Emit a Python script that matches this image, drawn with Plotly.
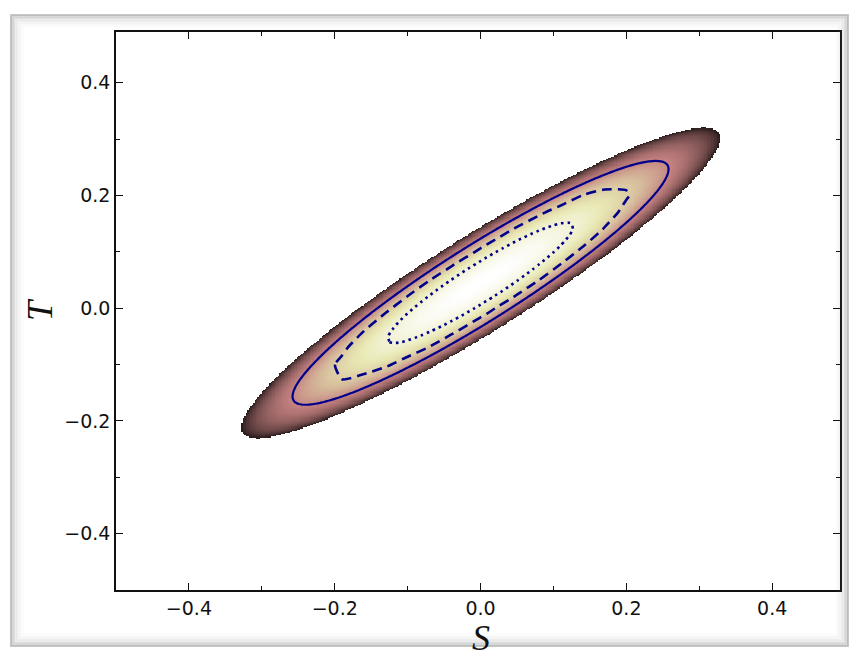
import numpy as np
import plotly.graph_objects as go

# ---- data ----
MEAN_S = 0.0
MEAN_T = 0.045
SIGMA_S = 0.1093
SIGMA_T = 0.0917
RHO = 0.932
CUTOFF_SIGMA = 3.0
CONTOUR_SIGMAS = [2.36, 1.89, 1.17]
CONTOUR_DASHES = ["solid", "10px,6px", "2.5px,4px"]
CONTOUR_WIDTHS = [2.2, 2.6, 2.6]
CONTOUR_STEPS = [0.005, 0.03, 0.01]

X_TICKS = [-0.4, -0.2, 0.0, 0.2, 0.4]
X_TICK_TEXT = ["\u22120.4", "\u22120.2", "0.0", "0.2", "0.4"]
Y_TICKS = [-0.4, -0.2, 0.0, 0.2, 0.4]
Y_TICK_TEXT = ["\u22120.4", "\u22120.2", "0.0", "0.2", "0.4"]
X_RANGE = [-0.5, 0.493]
Y_RANGE = [-0.5, 0.49]
X_TITLE = "S"
Y_TITLE = "T"


def mahal2(S, T):
    zs = (S - MEAN_S) / SIGMA_S
    zt = (T - MEAN_T) / SIGMA_T
    return (zs ** 2 - 2 * RHO * zs * zt + zt ** 2) / (1 - RHO ** 2)


def pink(t):
    t = 1 / 64 + t * 63 / 64
    hr = min(1.0, t / 0.375)
    hg = min(1.0, max(0.0, (t - 0.375) / 0.375))
    hb = min(1.0, max(0.0, (t - 0.75) / 0.25))
    r = np.sqrt((2 * t + hr) / 3)
    g = np.sqrt((2 * t + hg) / 3)
    b = np.sqrt((2 * t + hb) / 3)
    return "rgb(%d,%d,%d)" % (round(r * 255), round(g * 255), round(b * 255))


pink_scale = [[i / 32, pink(i / 32)] for i in range(33)]

# fine grid for the density image
s_f = np.round(np.arange(-0.345, 0.3451, 0.002), 4)
t_f = np.round(np.arange(-0.25, 0.3401, 0.002), 4)
SS, TT = np.meshgrid(s_f, t_f)
D2 = mahal2(SS, TT)
logL = np.where(D2 <= CUTOFF_SIGMA ** 2, np.round(-D2 / 2, 3), np.nan)

fig = go.Figure()
fig.add_trace(go.Heatmap(
    x=s_f, y=t_f, z=logL, colorscale=pink_scale,
    zmin=-CUTOFF_SIGMA ** 2 / 2, zmax=0, showscale=False,
    hoverinfo="skip", zsmooth=False,
))

for lev, dash, w, step in zip(CONTOUR_SIGMAS, CONTOUR_DASHES, CONTOUR_WIDTHS, CONTOUR_STEPS):
    xx = np.round(np.arange(-0.4, 0.4001, step), 4)
    yy = np.round(np.arange(-0.4, 0.4001, step), 4)
    XX, YY = np.meshgrid(xx, yy)
    zz = np.round(mahal2(XX, YY), 4)
    fig.add_trace(go.Contour(
        x=xx, y=yy, z=zz,
        contours=dict(start=lev ** 2, end=lev ** 2, size=1, coloring="none"),
        line=dict(color="#00008B", width=w, dash=dash, smoothing=0.6),
        showscale=False, hoverinfo="skip",
    ))

# torn-paper-like frame drawn around the figure (pixel -> paper mapping)
L, R, T_, B = 116, 840, 32, 590
def px(x):
    return (x - L) / (R - L)
def py(y):
    return (B - y) / (B - T_)

shapes = []
for k, op in enumerate([0.45, 0.30, 0.20, 0.14, 0.10, 0.07, 0.05, 0.035, 0.02]):
    shapes.append(dict(
        type="rect", xref="paper", yref="paper",
        x0=px(11 + k * 1.5), x1=px(848 - k * 1.5), y0=py(646 - k * 1.5), y1=py(15 + k * 1.5),
        line=dict(color="rgba(130,130,130,%.3f)" % op, width=2),
        fillcolor="rgba(0,0,0,0)", layer="above",
    ))

axis_common = dict(
    showline=True, linecolor="#111", linewidth=1.5, mirror="ticks",
    ticks="inside", ticklen=7, tickwidth=1.2, tickcolor="#111",
    showgrid=False, zeroline=False, automargin=False,
    tickfont=dict(family="DejaVu Sans", size=19, color="#111"),
    minor=dict(ticks="inside", ticklen=4, tickwidth=1, tickcolor="#111", dtick=0.1, showgrid=False),
)

fig.update_layout(
    width=853, height=650,
    margin=dict(l=L, r=853 - R, t=T_, b=650 - B),
    paper_bgcolor="white", plot_bgcolor="white",
    showlegend=False,
    shapes=shapes,
    xaxis=dict(range=X_RANGE, tickvals=X_TICKS, ticktext=X_TICK_TEXT, **axis_common),
    yaxis=dict(range=Y_RANGE, tickvals=Y_TICKS, ticktext=Y_TICK_TEXT,
               title=dict(text=Y_TITLE, standoff=1,
                          font=dict(family="Liberation Serif", size=36, style="italic", color="#111")),
               **axis_common),
    annotations=[dict(
        text=X_TITLE, xref="paper", yref="paper", x=px(481), y=py(616),
        xanchor="center", yanchor="top", showarrow=False,
        font=dict(family="Liberation Serif", size=36, style="italic", color="#111"),
    )],
)

fig.write_html("out.html", config={"displayModeBar": False},
               post_script="document.body.style.margin='0';document.body.style.overflow='hidden';")
